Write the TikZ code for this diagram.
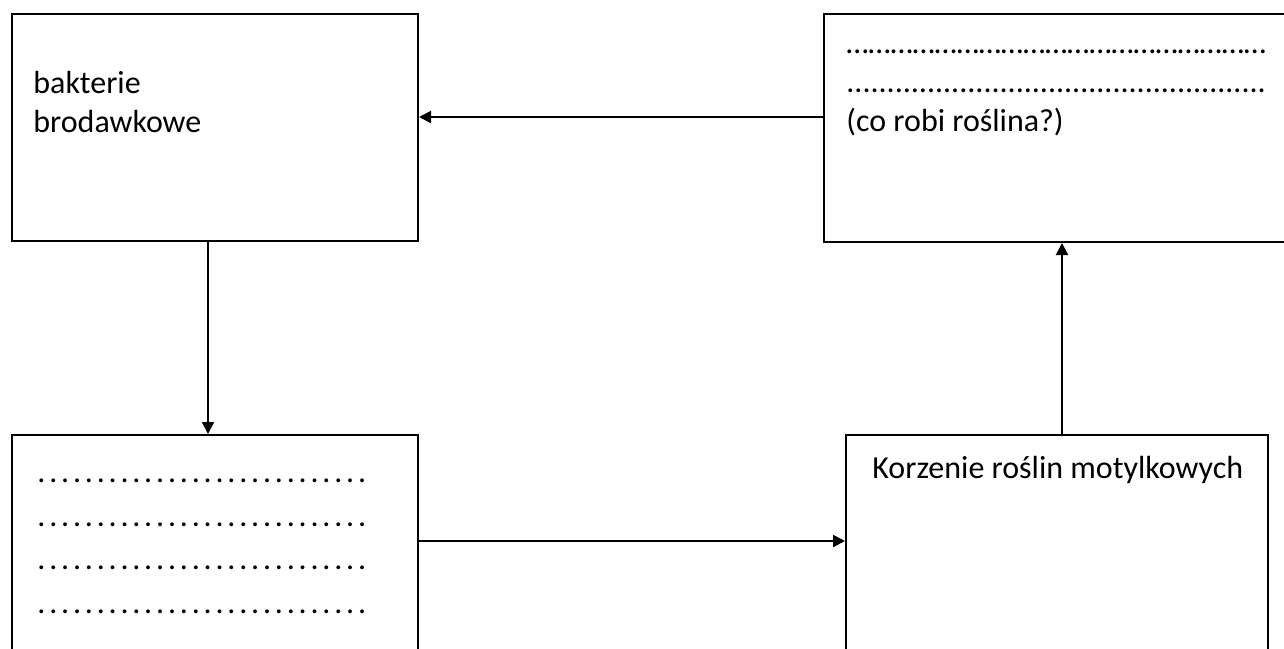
\documentclass[tikz,border=0pt]{standalone}
\usepackage{fontspec}
\setmainfont{Carlito}
\usetikzlibrary{arrows.meta,positioning,calc}
\newcommand{\tightdots}{\spaceskip=0.7pt\relax}
\tikzset{
  box/.style={rectangle, draw=black, fill=white, line width=1pt, inner sep=0pt},
  txt/.style={anchor=north west, inner sep=0pt, align=left, font=\fontsize{16}{19.5}\selectfont},
  dotrows/.style={txt, font=\fontsize{16}{21.8}\selectfont\tightdots},
  flow/.style={-{Triangle[length=6pt, width=6pt]}, draw=black, line width=1pt}
}

\begin{document}
\begin{tikzpicture}[x=0.5pt, y=-0.5pt]
   \useasboundingbox (0,0) rectangle (1284,648);
   \clip (0,0) rectangle (1284,648);
   % boxes
   \node[box, minimum width=203pt, minimum height=113.5pt] (bact) at (215,127.5) {};
   \node[box, minimum width=243pt, minimum height=114pt] (plant) at (1067,128) {};
   \node[box, minimum width=203pt, minimum height=142.5pt] (gaps) at (215,577.5) {};
   \node[box, minimum width=211pt, minimum height=142.5pt] (roots) at (1057,577.5) {};
   % texts
   \node[txt] (bacttxt) at (33,65.7) {\strut bakterie\\\strut brodawkowe};
   \node[txt] (planttxt) at (846,25.7) {\strut …………………………………………………\\\strut ....................................................\\\strut (co robi roślina?)};
   \node[dotrows] (gapstxt) at (37,451.5) {\strut . . . . . . . . . . . . . . . . . . . . . . . . . . . .\\\strut . . . . . . . . . . . . . . . . . . . . . . . . . . . .\\\strut . . . . . . . . . . . . . . . . . . . . . . . . . . . .\\\strut . . . . . . . . . . . . . . . . . . . . . . . . . . . .};
   \node[txt] (rootstxt) at (872,450.7) {\strut Korzenie roślin motylkowych};
   % connectors
   \draw[flow] ([yshift=5.5pt]plant.west) -- ([yshift=5.5pt]plant.west -| bact.east);
   \draw[flow] ([xshift=-3.5pt]bact.south) -- ([xshift=-3.5pt]bact.south |- gaps.north);
   \draw[flow] ([yshift=18.25pt]gaps.east) -- ([yshift=18.25pt]gaps.east -| roots.west);
   \draw[flow] ([xshift=2.5pt]roots.north) -- ([xshift=2.5pt]roots.north |- plant.south);
\end{tikzpicture}
\end{document}
